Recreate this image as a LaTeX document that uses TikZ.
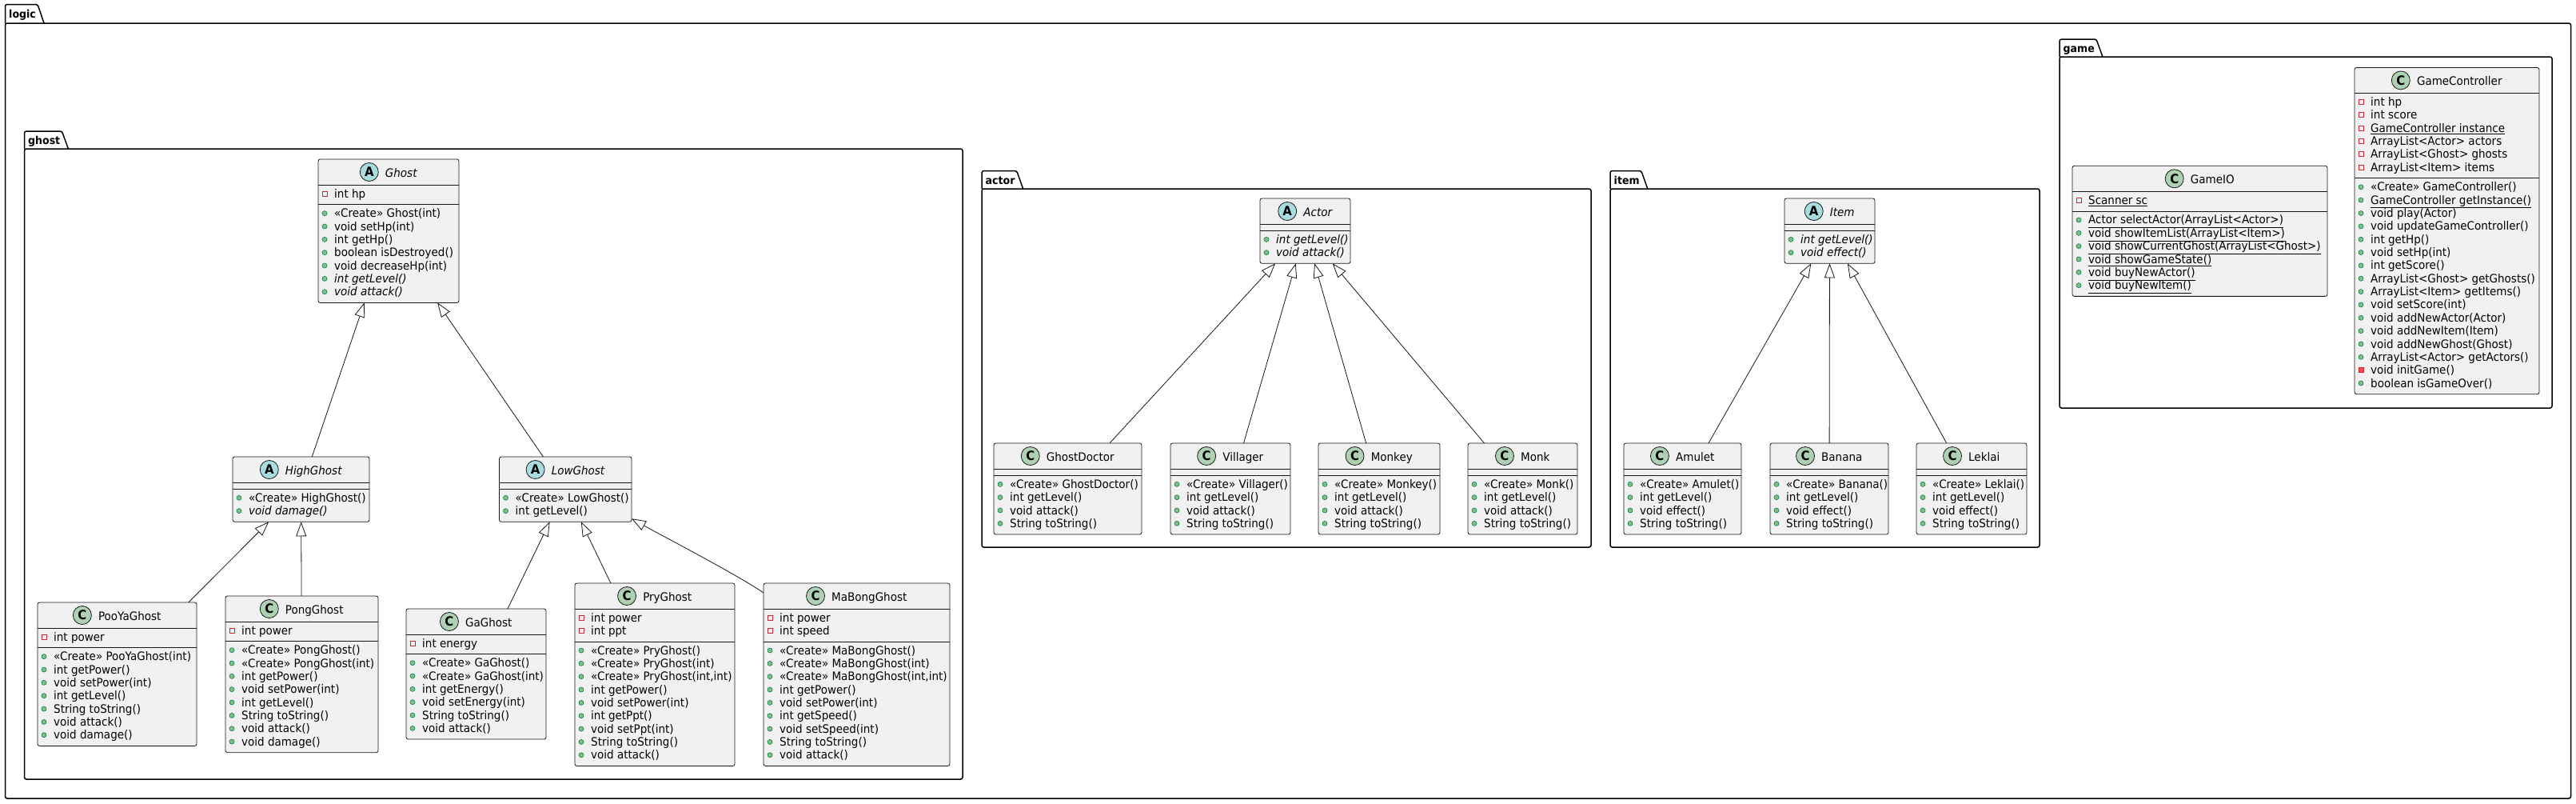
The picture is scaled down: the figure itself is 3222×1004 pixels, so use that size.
\documentclass[tikz,border=0pt]{standalone}
\usepackage{fontspec}
\setmainfont{DejaVu Sans}[FakeStretch=0.93]
\usetikzlibrary{arrows.meta,calc}
\definecolor{cfill}{HTML}{F1F1F1}
\definecolor{cborder}{HTML}{181818}
\definecolor{iconA}{HTML}{A9DCDF}
\definecolor{iconC}{HTML}{ADD1B2}
\definecolor{pubfill}{HTML}{84BE84}
\definecolor{pubdraw}{HTML}{038048}
\definecolor{privdraw}{HTML}{C82930}
\definecolor{privfill}{HTML}{F24D5C}
\tikzset{
 classbox/.style={rectangle, draw=cborder, fill=cfill, line width=0.8pt, rounded corners=2.5pt, inner sep=0pt, outer sep=0pt, anchor=north west},
 classsep/.style={draw=cborder, line width=0.8pt},
 ctitle/.style={inner sep=0pt, anchor=base, font=\fontsize{14.5}{16}\selectfont},
 cicon/.style={circle, draw=cborder, line width=0.8pt, minimum size=23pt, inner sep=0pt, font=\fontsize{16}{16}\selectfont\bfseries},
 mtext/.style={inner sep=0pt, anchor=base west, font=\fontsize{14.5}{16}\selectfont},
 privfield/.style={draw=privdraw, line width=0.8pt},
 privmeth/.style={draw=privdraw, fill=privfill, line width=0.8pt},
 pubmeth/.style={draw=pubdraw, fill=pubfill, line width=0.6pt},
 pkgline/.style={draw=black, line width=1.5pt, rounded corners=2.5pt},
 pkglabel/.style={inner sep=0pt, anchor=base west, font=\fontsize{13.5}{15}\selectfont\bfseries},
 inherit/.style={draw=cborder, line width=0.8pt, -{Triangle[length=18pt, width=13pt, fill=white]}},
}
\newcommand\fmtpf[1]{#1}
\newcommand\fmtpfu[1]{\underline{#1}}
\newcommand\fmtpm[1]{#1}
\newcommand\fmtpmi[1]{\textit{#1}}
\newcommand\fmtpmu[1]{\underline{#1}}
\newcommand\fmtvm[1]{#1}
\newcommand\iconpf[2]{\draw[privfield] (#1-3,#2-3) rectangle (#1+3,#2+3);}
\newcommand\iconpfu[2]{\draw[privfield] (#1-3,#2-3) rectangle (#1+3,#2+3);}
\newcommand\iconpm[2]{\draw[pubmeth] (#1,#2) circle[radius=3pt];}
\newcommand\iconpmi[2]{\draw[pubmeth] (#1,#2) circle[radius=3pt];}
\newcommand\iconpmu[2]{\draw[pubmeth] (#1,#2) circle[radius=3pt];}
\newcommand\iconvm[2]{\draw[privmeth] (#1-3,#2-3) rectangle (#1+3,#2+3);}
% package: id, L, tabTop, mainTop, R, B, label
\newcommand\umlpackage[7]{%
 \node[pkglabel] (pkg-#1) at (#2+4.5,#3+16.5) {#7};
 \coordinate (pkg-#1-tt) at (#2,#3);
 \coordinate (pkg-#1-mt) at (#2,#4);
 \coordinate (pkg-#1-a) at ($(pkg-#1.east)+(2,0)$);
 \coordinate (pkg-#1-b) at ($(pkg-#1.east)+(10,0)$);
 \draw[pkgline] (pkg-#1-mt) -- (pkg-#1-tt) -- (pkg-#1-a |- pkg-#1-tt) -- (pkg-#1-b |- pkg-#1-mt);
 \draw[pkgline] (#2,#4) rectangle (#5,#6);
}
% class: id, L, T, W, kind, title, nattr, nmeth
\newcommand\umlclass[8]{%
 \pgfmathsetmacro\hA{16.35*#7+8.3}%
 \pgfmathsetmacro\hM{16.35*#8+8.3}%
 \pgfmathsetmacro\hT{32+\hA+\hM}%
 \pgfmathsetmacro\yA{#3+32}%
 \pgfmathsetmacro\yM{#3+32+\hA}%
 \pgfmathsetmacro\xR{#2+#4}%
 \pgfmathsetmacro\xC{#2+#4/2+15.75}%
 \pgfmathsetmacro\yC{#3+22}%
 \node[classbox, minimum width=#4pt, minimum height=\hT pt] (#1) at (#2,#3) {};
 \draw[classsep] (#2,\yA) -- (\xR,\yA);
 \draw[classsep] (#2,\yM) -- (\xR,\yM);
 \node[ctitle] (#1-name) at (\xC,\yC) {#6};
 \node[cicon, fill=icon#5] (#1-icon) at ($(#1-name.base west)+(-20,-6)$) {#5};
 \xdef\curL{#2}\xdef\curA{\yA}\xdef\curM{\yM}%
}
\newcommand\members[4]{%
 \foreach \mvis/\mtxt [count=\mi from 0] in {#4} {%
   \pgfmathsetmacro\yb{#3+16+16.35*\mi}%
   \pgfmathsetmacro\xi{\curL+8}%
   \pgfmathsetmacro\yi{\yb-5}%
   \csname icon\mvis\endcsname{\xi}{\yi}%
   \node[mtext] (#1-#2\mi) at (\curL+20,\yb) {\csname fmt\mvis\endcsname{\mtxt}};%
 }%
}
\newcommand\attrs[2]{\members{#1}{a}{\curA}{#2}}
\newcommand\meths[2]{\members{#1}{m}{\curM}{#2}}
\begin{document}
\begin{tikzpicture}[x=1pt,y=-1pt]
\fill[white] (0,0) rectangle (3222,1004);
\useasboundingbox (0,0) rectangle (3222,1004);
% packages
\umlpackage{logic}{6.5}{5.5}{29}{3215.5}{998}{logic}
\umlpackage{ghost}{30.5}{164}{186}{1204}{974}{ghost}
\umlpackage{actor}{1228}{213.5}{236}{1990}{684}{actor}
\umlpackage{item}{2014}{213.5}{236}{2551}{684}{item}
\umlpackage{game}{2576}{49}{71}{3192}{510}{game}
% ghost package
\umlclass{Ghost}{398}{199}{176}{A}{\itshape Ghost}{1}{7}
\attrs{Ghost}{pf/int hp}
\meths{Ghost}{pm/«Create» Ghost(int), pm/void setHp(int), pm/int getHp(), pm/boolean isDestroyed(), pm/void decreaseHp(int), pmi/int getLevel(), pmi/void attack()}
\umlclass{HighGhost}{291}{571}{171}{A}{\itshape HighGhost}{0}{2}
\meths{HighGhost}{pm/«Create» HighGhost(), pmi/void damage()}
\umlclass{LowGhost}{624.5}{571}{165.5}{A}{\itshape LowGhost}{0}{2}
\meths{LowGhost}{pm/«Create» LowGhost(), pm/int getLevel()}
\umlclass{PooYaGhost}{47}{753}{199}{C}{PooYaGhost}{1}{7}
\attrs{PooYaGhost}{pf/int power}
\meths{PooYaGhost}{pm/«Create» PooYaGhost(int), pm/int getPower(), pm/void setPower(int), pm/int getLevel(), pm/String toString(), pm/void attack(), pm/void damage()}
\umlclass{PongGhost}{282}{745}{191}{C}{PongGhost}{1}{8}
\attrs{PongGhost}{pf/int power}
\meths{PongGhost}{pm/«Create» PongGhost(), pm/«Create» PongGhost(int), pm/int getPower(), pm/void setPower(int), pm/int getLevel(), pm/String toString(), pm/void attack(), pm/void damage()}
\umlclass{GaGhost}{508}{761}{175}{C}{GaGhost}{1}{6}
\attrs{GaGhost}{pf/int energy}
\meths{GaGhost}{pm/«Create» GaGhost(), pm/«Create» GaGhost(int), pm/int getEnergy(), pm/void setEnergy(int), pm/String toString(), pm/void attack()}
\umlclass{PryGhost}{719}{729}{200}{C}{PryGhost}{2}{9}
\attrs{PryGhost}{pf/int power, pf/int ppt}
\meths{PryGhost}{pm/«Create» PryGhost(), pm/«Create» PryGhost(int), pm/{«Create» PryGhost(int,int)}, pm/int getPower(), pm/void setPower(int), pm/int getPpt(), pm/void setPpt(int), pm/String toString(), pm/void attack()}
\umlclass{MaBongGhost}{955}{729}{233}{C}{MaBongGhost}{2}{9}
\attrs{MaBongGhost}{pf/int power, pf/int speed}
\meths{MaBongGhost}{pm/«Create» MaBongGhost(), pm/«Create» MaBongGhost(int), pm/{«Create» MaBongGhost(int,int)}, pm/int getPower(), pm/void setPower(int), pm/int getSpeed(), pm/void setSpeed(int), pm/String toString(), pm/void attack()}
% actor package
\umlclass{Actor}{1576}{248}{113}{A}{\itshape Actor}{0}{2}
\meths{Actor}{pmi/int getLevel(), pmi/void attack()}
\umlclass{GhostDoctor}{1243}{554}{185}{C}{GhostDoctor}{0}{4}
\meths{GhostDoctor}{pm/«Create» GhostDoctor(), pm/int getLevel(), pm/void attack(), pm/String toString()}
\umlclass{Villager}{1464}{554}{150}{C}{Villager}{0}{4}
\meths{Villager}{pm/«Create» Villager(), pm/int getLevel(), pm/void attack(), pm/String toString()}
\umlclass{Monkey}{1649}{554}{152}{C}{Monkey}{0}{4}
\meths{Monkey}{pm/«Create» Monkey(), pm/int getLevel(), pm/void attack(), pm/String toString()}
\umlclass{Monk}{1836}{554}{137}{C}{Monk}{0}{4}
\meths{Monk}{pm/«Create» Monk(), pm/int getLevel(), pm/void attack(), pm/String toString()}
% item package
\umlclass{Item}{2232}{248}{113}{A}{\itshape Item}{0}{2}
\meths{Item}{pmi/int getLevel(), pmi/void effect()}
\umlclass{Amulet}{2031}{554}{147}{C}{Amulet}{0}{4}
\meths{Amulet}{pm/«Create» Amulet(), pm/int getLevel(), pm/void effect(), pm/String toString()}
\umlclass{Banana}{2214}{554}{148}{C}{Banana}{0}{4}
\meths{Banana}{pm/«Create» Banana(), pm/int getLevel(), pm/void effect(), pm/String toString()}
\umlclass{Leklai}{2397}{554}{138}{C}{Leklai}{0}{4}
\meths{Leklai}{pm/«Create» Leklai(), pm/int getLevel(), pm/void effect(), pm/String toString()}
% game package
\umlclass{GameIO}{2592}{207.3}{319}{C}{GameIO}{1}{6}
\attrs{GameIO}{pfu/Scanner sc}
\meths{GameIO}{pmu/Actor selectActor(ArrayList<Actor>), pmu/void showItemList(ArrayList<Item>), pmu/void showCurrentGhost(ArrayList<Ghost>), pmu/void showGameState(), pmu/void buyNewActor(), pmu/void buyNewItem()}
\umlclass{GameController}{2945}{84.4}{231}{C}{GameController}{6}{16}
\attrs{GameController}{pf/int hp, pf/int score, pfu/GameController instance, pf/ArrayList<Actor> actors, pf/ArrayList<Ghost> ghosts, pf/ArrayList<Item> items}
\meths{GameController}{pm/«Create» GameController(), pmu/GameController getInstance(), pm/void play(Actor), pm/void updateGameController(), pm/int getHp(), pm/void setHp(int), pm/int getScore(), pm/ArrayList<Ghost> getGhosts(), pm/ArrayList<Item> getItems(), pm/void setScore(int), pm/void addNewActor(Actor), pm/void addNewItem(Item), pm/void addNewGhost(Ghost), pm/ArrayList<Actor> getActors(), vm/void initGame(), pm/boolean isGameOver()}
% inheritance
\draw[inherit] (HighGhost) -- (Ghost);
\draw[inherit] (LowGhost) -- (Ghost);
\draw[inherit] (PooYaGhost) -- (HighGhost);
\draw[inherit] (PongGhost) -- (HighGhost);
\draw[inherit] (GaGhost) -- (LowGhost);
\draw[inherit] (PryGhost) -- (LowGhost);
\draw[inherit] ($(MaBongGhost.north west)+(0,12)$) .. controls (925,720) and (825,668) .. ($(LowGhost.south east)+(0,-4)$);
\draw[inherit] (GhostDoctor) -- (Actor);
\draw[inherit] (Villager) -- (Actor);
\draw[inherit] (Monkey) -- (Actor);
\draw[inherit] (Monk) -- (Actor);
\draw[inherit] (Amulet) -- (Item);
\draw[inherit] (Banana) -- (Item);
\draw[inherit] (Leklai) -- (Item);
\end{tikzpicture}
\end{document}
